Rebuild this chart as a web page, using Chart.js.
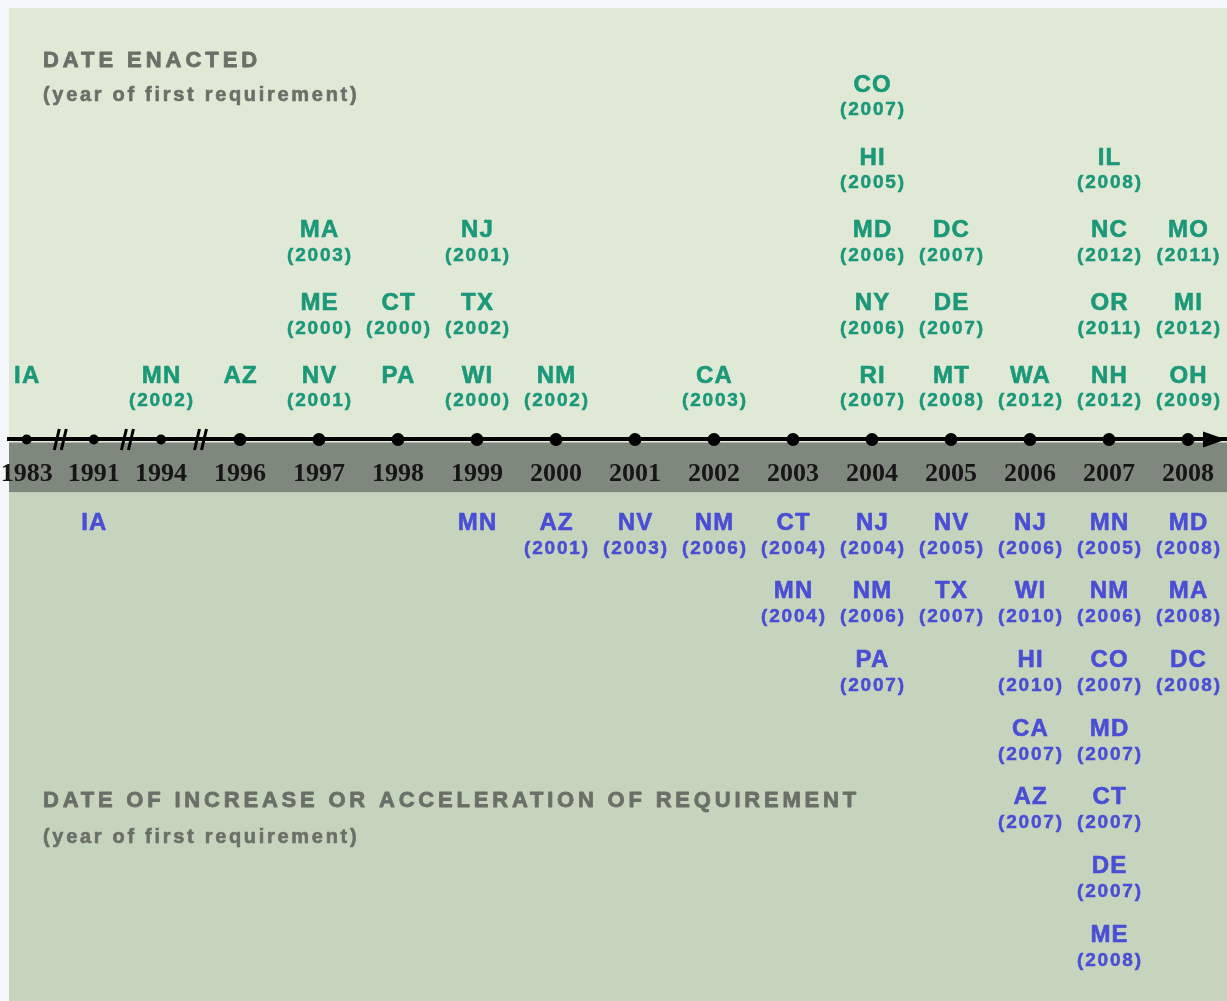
<!DOCTYPE html>
<html>
<head>
<meta charset="utf-8">
<script src="https://cdn.jsdelivr.net/npm/chart.js@4.4.1/dist/chart.umd.min.js"></script>
<style>
  html, body { margin: 0; padding: 0; background: #f3f7fa; overflow: hidden; }
  #wrap { position: relative; width: 1227px; height: 1001px; }
</style>
</head>
<body>
<div id="wrap"><canvas id="c"></canvas></div>
<script>
// ---------- DATA ----------
const years = ['1983','1991','1994','1996','1997','1998','1999','2000','2001','2002','2003','2004','2005','2006','2007','2008'];

// Date enacted: per year column, nearest to the axis first; [state, year of first requirement]
const enactedByYear = [
  [['IA', null]],
  [],
  [['MN', '2002']],
  [['AZ', null]],
  [['NV', '2001'], ['ME', '2000'], ['MA', '2003']],
  [['PA', null], ['CT', '2000']],
  [['WI', '2000'], ['TX', '2002'], ['NJ', '2001']],
  [['NM', '2002']],
  [],
  [['CA', '2003']],
  [],
  [['RI', '2007'], ['NY', '2006'], ['MD', '2006'], ['HI', '2005'], ['CO', '2007']],
  [['MT', '2008'], ['DE', '2007'], ['DC', '2007']],
  [['WA', '2012']],
  [['NH', '2012'], ['OR', '2011'], ['NC', '2012'], ['IL', '2008']],
  [['OH', '2009'], ['MI', '2012'], ['MO', '2011']]
];

// Date of increase or acceleration of requirement
const increaseByYear = [
  [],
  [['IA', null]],
  [],
  [],
  [],
  [],
  [['MN', null]],
  [['AZ', '2001']],
  [['NV', '2003']],
  [['NM', '2006']],
  [['CT', '2004'], ['MN', '2004']],
  [['NJ', '2004'], ['NM', '2006'], ['PA', '2007']],
  [['NV', '2005'], ['TX', '2007']],
  [['NJ', '2006'], ['WI', '2010'], ['HI', '2010'], ['CA', '2007'], ['AZ', '2007']],
  [['MN', '2005'], ['NM', '2006'], ['CO', '2007'], ['MD', '2007'], ['CT', '2007'], ['DE', '2007'], ['ME', '2008']],
  [['MD', '2008'], ['MA', '2008'], ['DC', '2008']]
];

// ---------- SCALE HELPERS ----------
// The first steps of the axis cross "broken" stretches and are drawn compressed.
const BROKEN_STEPS = 2;
const BROKEN_STEP_SIZE = 0.85;
function slot(i) {
  return i <= BROKEN_STEPS ? i * BROKEN_STEP_SIZE : BROKEN_STEPS * BROKEN_STEP_SIZE + (i - BROKEN_STEPS);
}
function toPoints(cols) {
  const pts = [];
  cols.forEach((col, i) => col.forEach((e, r) => pts.push({ x: slot(i), y: r + 1, state: e[0], req: e[1] })));
  return pts;
}

const SANS = '"Liberation Sans", Arial, Helvetica, sans-serif';
const labelStyles = {
  enacted:  { color: '#1b9878', nameDy: 9.5,  reqDy: 34.5 },
  increase: { color: '#4a4ed5', nameDy: 14.8, reqDy: 40.3 }
};

function spacedText(ctx, text, x, y, font, ls, align, bolden) {
  ctx.save();
  ctx.font = font;
  ctx.letterSpacing = ls + 'px';
  ctx.textAlign = align || 'center';
  ctx.textBaseline = 'middle';
  const tx = align === 'left' ? x : x + ls / 2;
  ctx.fillText(text, tx, y);
  if (bolden) {
    ctx.strokeStyle = ctx.fillStyle;
    ctx.lineWidth = bolden;
    ctx.lineJoin = 'round';
    ctx.strokeText(text, tx, y);
  }
  ctx.restore();
}

const decorPlugin = {
  id: 'decor',
  beforeDraw(chart) {
    const { ctx, chartArea: ca } = chart;
    const axisY = chart.scales.yTop.getPixelForValue(0);
    const w = ca.right - ca.left + 1;
    ctx.save();
    ctx.fillStyle = '#dfe9d6';
    ctx.fillRect(ca.left, ca.top, w, axisY + 3 - ca.top);
    ctx.fillStyle = '#7f887c';
    ctx.fillRect(ca.left, axisY + 3, w, 50);
    ctx.fillStyle = '#c7d4bd';
    ctx.fillRect(ca.left, axisY + 53, w, ca.bottom - axisY - 53 + 1);
    // section titles
    ctx.fillStyle = '#6a7068';
    spacedText(ctx, 'DATE ENACTED', 43, 61, 'bold 22px ' + SANS, 3.95, 'left', 0.8);
    spacedText(ctx, '(year of first requirement)', 43, 95, 'bold 20px ' + SANS, 2.7, 'left', 0.6);
    spacedText(ctx, 'DATE OF INCREASE OR ACCELERATION OF REQUIREMENT', 43, 801, 'bold 22px ' + SANS, 3.8, 'left', 0.8);
    spacedText(ctx, '(year of first requirement)', 43, 837, 'bold 20px ' + SANS, 2.7, 'left', 0.6);
    ctx.restore();
  },
  afterDatasetsDraw(chart) {
    const { ctx, chartArea: ca } = chart;
    const xs = chart.scales.x;
    const axisY = chart.scales.yTop.getPixelForValue(0);
    ctx.save();
    // break marks
    ctx.strokeStyle = '#000';
    ctx.lineWidth = 3;
    for (let k = 0; k <= BROKEN_STEPS; k++) {
      const mx = (xs.getPixelForValue(slot(k)) + xs.getPixelForValue(slot(k + 1))) / 2;
      [-3.5, 3.5].forEach(s => {
        ctx.beginPath();
        ctx.moveTo(mx + s + 2.5, axisY - 10.5);
        ctx.lineTo(mx + s - 2.5, axisY + 10.5);
        ctx.stroke();
      });
    }
    // arrow head
    ctx.fillStyle = '#000';
    ctx.beginPath();
    ctx.moveTo(ca.right, axisY);
    ctx.lineTo(ca.right - 23, axisY - 8);
    ctx.lineTo(ca.right - 23, axisY + 8);
    ctx.closePath();
    ctx.fill();
    // state labels
    chart.data.datasets.forEach((ds, di) => {
      const st = labelStyles[ds.label];
      if (!st) return;
      const meta = chart.getDatasetMeta(di);
      ctx.fillStyle = st.color;
      meta.data.forEach((el, j) => {
        const p = ds.data[j];
        spacedText(ctx, p.state, el.x, el.y + st.nameDy, 'bold 24px ' + SANS, 1.2, 'center', 0.6);
        if (p.req) spacedText(ctx, '(' + p.req + ')', el.x, el.y + st.reqDy, 'bold 19px ' + SANS, 1.8, 'center', 0.5);
      });
    });
    ctx.restore();
  }
};

new Chart(document.getElementById('c'), {
  type: 'scatter',
  data: {
    datasets: [
      {
        label: 'axis',
        data: years.map((y, i) => ({ x: slot(i), y: 0 })),
        yAxisID: 'yTop',
        pointRadius: c => (c.dataIndex <= BROKEN_STEPS ? 5 : 6.5),
        pointHoverRadius: 0,
        pointBackgroundColor: '#000',
        pointBorderWidth: 0
      },
      { label: 'enacted', data: toPoints(enactedByYear), yAxisID: 'yTop', pointRadius: 0, pointHoverRadius: 0 },
      { label: 'increase', data: toPoints(increaseByYear), yAxisID: 'yBot', pointRadius: 0, pointHoverRadius: 0 }
    ]
  },
  options: {
    responsive: true,
    maintainAspectRatio: false,
    animation: false,
    events: [],
    layout: { autoPadding: false, padding: { left: 9, top: 8, right: 1, bottom: 0 } },
    plugins: { legend: { display: false }, tooltip: { enabled: false }, title: { display: false } },
    scales: {
      x: {
        type: 'linear',
        bounds: 'data',
        min: -0.224,
        max: 15.181,
        position: { yTop: 0 },
        afterBuildTicks: s => { s.ticks = years.map((y, i) => ({ value: slot(i) })); },
        ticks: {
          callback: (v, i) => years[i],
          autoSkip: false,
          maxRotation: 0,
          minRotation: 0,
          padding: 0,
          color: '#161616',
          font: { family: '"Liberation Serif", "Times New Roman", serif', size: 26, weight: 'bold', lineHeight: 1.2 }
        },
        grid: { display: false, drawTicks: true, tickLength: 19 },
        border: { display: true, color: '#000', width: 4 }
      },
      yTop: { type: 'linear', display: false, bounds: 'data', min: -7.718, max: 5.931 },
      yBot: { type: 'linear', display: false, bounds: 'data', reverse: true, min: -6.284, max: 8.177 }
    }
  },
  plugins: [decorPlugin]
});
</script>
</body>
</html>
